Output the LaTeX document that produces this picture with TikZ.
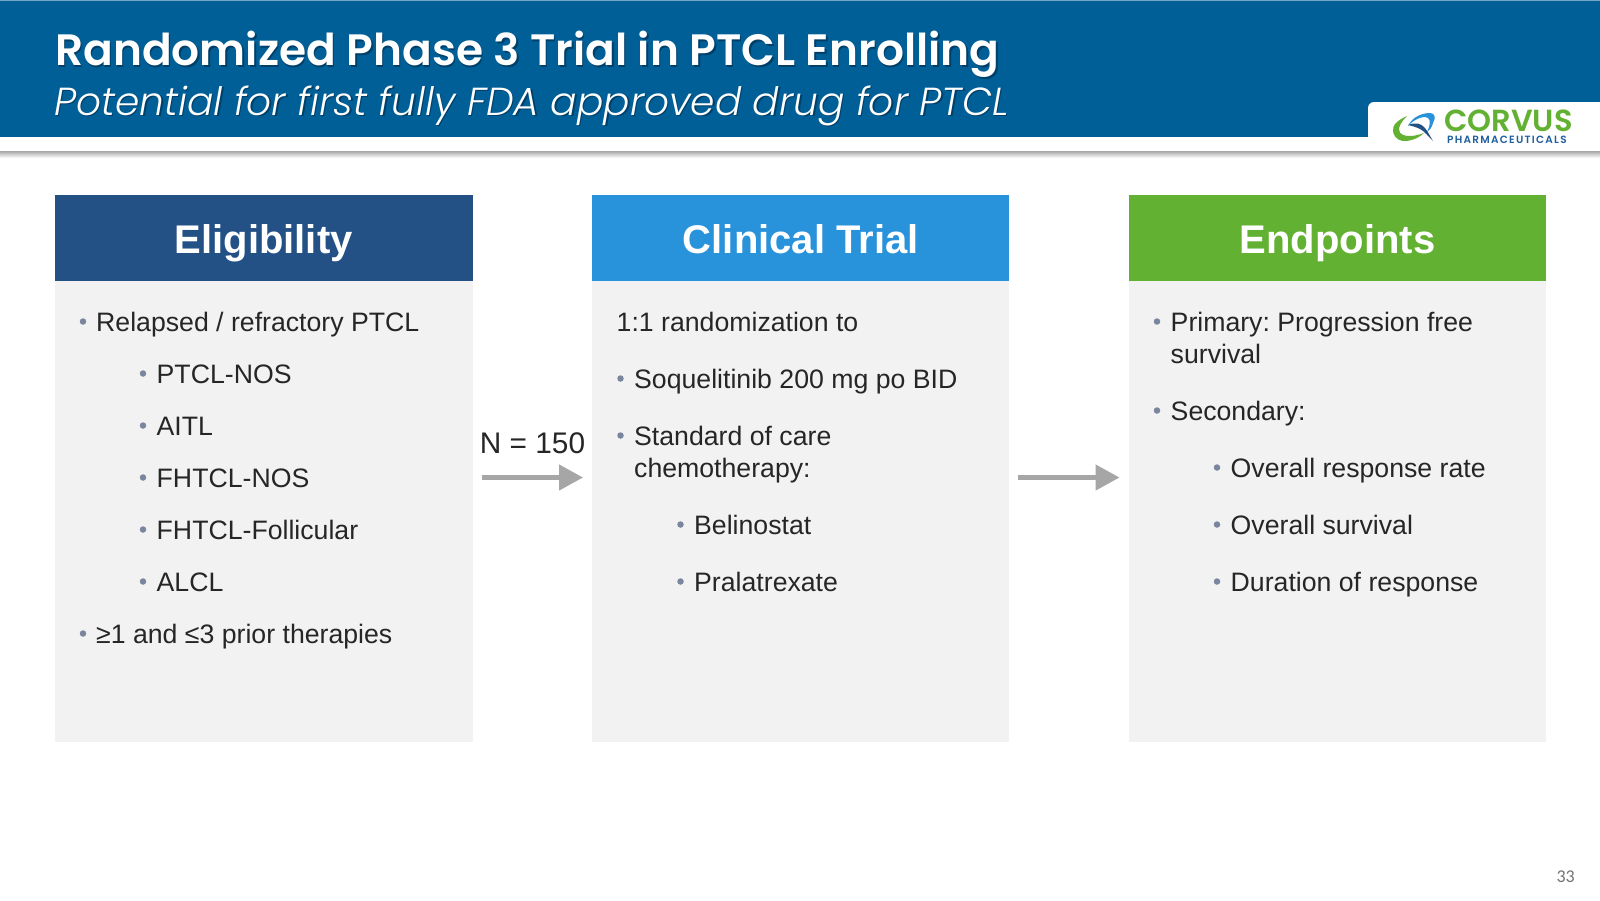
\documentclass[tikz,border=0pt]{standalone}
\usepackage{fontspec}
\setmainfont{Liberation Sans}
\newfontfamily\titlefont{Poppins}[UprightFont=* SemiBold]
\newfontfamily\subfont{Poppins}[UprightFont=* Light Italic]
\newfontfamily\logofont{Poppins}[UprightFont=* SemiBold]
\newfontfamily\pharmafont{Poppins}[UprightFont=* SemiBold,LetterSpace=12]
\newfontfamily\pagefont{Carlito}
\usetikzlibrary{arrows.meta}
\definecolor{banner}{HTML}{005F97}
\definecolor{bannershade}{HTML}{003F68}
\definecolor{elig}{HTML}{235185}
\definecolor{clin}{HTML}{2892DB}
\definecolor{endp}{HTML}{62B132}
\definecolor{panel}{HTML}{F2F2F2}
\definecolor{ink}{HTML}{262626}
\definecolor{dot}{HTML}{7A869E}
\definecolor{arrowgrey}{HTML}{A6A6A6}
\definecolor{logoblue}{HTML}{1F5FA0}
\tikzset{
 panelbox/.style={fill=panel,draw=none,minimum width=417.5pt,minimum height=461pt,anchor=north west,inner sep=0pt},
 headbox/.style={draw=none,minimum width=417.5pt,minimum height=86pt,anchor=north west,inner sep=0pt,text=white,text height=35pt,text depth=4pt,font=\fontsize{40}{44}\selectfont\bfseries},
 item/.style={anchor=base west,inner sep=0pt,text=ink,font=\fontsize{26.67}{30}\selectfont},
 bul/.style={circle,fill=dot,draw=none,minimum size=6.5pt,inner sep=0pt},
 flow/.style={draw=arrowgrey,line width=4.5pt,-{Triangle[length=24pt,width=25pt,fill=arrowgrey]}},
}
\newcommand{\bl}[5]{\node[bul] (#1d) at (#2,#4-9.5) {}; \node[item] (#1) at (#3,#4) {#5};}
\newcommand{\shadowed}[1]{\rlap{\kern1.6pt\raisebox{-1.6pt}{\textcolor{bannershade}{#1}}}#1}
\frenchspacing
\begin{document}
\begin{tikzpicture}[x=1pt,y=-1pt]
\useasboundingbox (0,0) rectangle (1600,900);
\fill[white] (0,0) rectangle (1600,900);
% banner
\fill[banner] (0,0) rectangle (1600,137);
\fill[banner!55!white] (0,0) rectangle (1600,1);
\fill[white,rounded corners=6pt] (1368,150) -- (1368,102) -- (1612,102) -- (1612,150) -- cycle;
\shade[top color=black!35,bottom color=white] (0,151) rectangle (1600,158);
\node[anchor=base west,inner sep=0pt,text=white,font=\fontsize{43.9}{48}\titlefont] (title) at (55,65.5) {\shadowed{Randomized Phase 3 Trial in PTCL Enrolling}};
\node[anchor=base west,inner sep=0pt,text=white,font=\fontsize{39.1}{42}\subfont] (subtitle) at (54,115) {\shadowed{Potential for first fully FDA approved drug for PTCL}};
% logo
\fill[endp] (1407,116) .. controls (1398,120) and (1392,125) .. (1393,131) .. controls (1394,139) and (1401,142) .. (1407,141) .. controls (1414,140) and (1420,137) .. (1424,133) .. controls (1416,136) and (1408,137) .. (1403,135) .. controls (1398,133) and (1396,127) .. (1407,116) -- cycle;
\fill[clin] (1408,126) .. controls (1412,117) and (1422,113) .. (1430,113) .. controls (1435,113) and (1436,118) .. (1433,123) .. controls (1432,127) and (1430,130) .. (1427,132) .. controls (1430,126) and (1431,120) .. (1428,118) .. controls (1423,115) and (1413,120) .. (1408,126) -- cycle;
\fill[elig] (1408,125) .. controls (1415,122) and (1421,123) .. (1425,128) .. controls (1428,132) and (1430,136) .. (1433,141) .. controls (1428,136) and (1424,131) .. (1420,129) .. controls (1416,127) and (1412,126) .. (1408,125) -- cycle;
\node[anchor=base west,inner sep=0pt,text=endp,font=\fontsize{30.5}{31}\logofont] (corvus) at (1444,131) {CORVUS};
\node[anchor=base west,inner sep=0pt,text=logoblue,font=\fontsize{10.5}{11}\pharmafont] (pharma) at (1447,143) {PHARMACEUTICALS};
% panels
\node[panelbox,minimum width=418pt] (p1) at (54.5,281) {};
\node[panelbox,minimum width=417pt] (p2) at (592,281) {};
\node[panelbox] (p3) at (1128.5,281) {};
\node[headbox,fill=elig,minimum width=418pt] (h1) at (54.5,195) {Eligibility};
\node[headbox,fill=clin,minimum width=417pt] (h2) at (592,195) {Clinical Trial};
\node[headbox,fill=endp] (h3) at (1128.5,195) {Endpoints};
% left
\bl{a1}{83}{96}{331}{Relapsed / refractory PTCL}
\bl{a2}{143}{156.5}{383}{PTCL-NOS}
\bl{a3}{143}{156.5}{435}{AITL}
\bl{a4}{143}{156.5}{487}{FHTCL-NOS}
\bl{a5}{143}{156.5}{539}{FHTCL-Follicular}
\bl{a6}{143}{156.5}{591}{ALCL}
\bl{a7}{83}{96}{643}{≥1 and ≤3 prior therapies}
% middle
\node[item] (b1) at (616.5,331) {1:1 randomization to};
\bl{b2}{620.5}{634}{388}{Soquelitinib 200 mg po BID}
\bl{b3}{620.5}{634}{445}{Standard of care}
\node[item] (b3b) at (634,477) {chemotherapy:};
\bl{b4}{680.5}{694}{534}{Belinostat}
\bl{b5}{680.5}{694}{591}{Pralatrexate}
% right
\bl{c1}{1157}{1170.5}{331}{Primary: Progression free}
\node[item] (c1b) at (1170.5,363) {survival};
\bl{c2}{1157}{1170.5}{420}{Secondary:}
\bl{c3}{1217}{1230.5}{477}{Overall response rate}
\bl{c4}{1217}{1230.5}{534}{Overall survival}
\bl{c5}{1217}{1230.5}{591}{Duration of response}
% arrows
\coordinate (s1) at (481.5,477.5); \coordinate (e1) at (583,477.5);
\coordinate (s2) at (1018,477.5); \coordinate (e2) at (1119.5,477.5);
\draw[flow] (s1) -- (e1);
\draw[flow] (s2) -- (e2);
\node[anchor=base,inner sep=0pt,text=ink,font=\fontsize{29.8}{32}\selectfont] (n) at (532.5,453) {N = 150};
\node[anchor=base east,inner sep=0pt,text=black!55,font=\fontsize{18}{20}\pagefont] (pg) at (1575,882) {33};
\end{tikzpicture}
\end{document}
